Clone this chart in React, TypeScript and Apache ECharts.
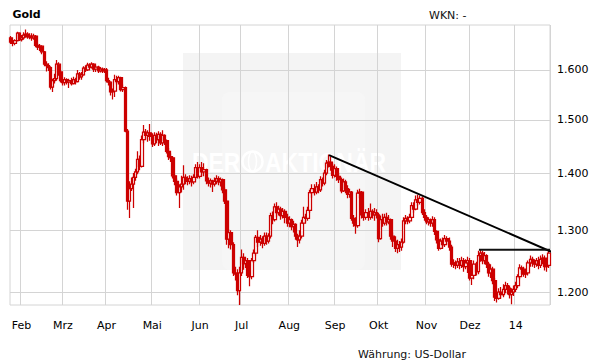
import React, { useEffect, useRef } from 'react';
import * as echarts from 'echarts';

// ---- data (gold, daily OHLC in USD) : [open, close, low, high] ----
const FIRST_DAY = '2013-01-25';
const MONTH_LABELS = ['Feb', 'Mrz', 'Apr', 'Mai', 'Jun', 'Jul', 'Aug', 'Sep', 'Okt', 'Nov', 'Dez', '14'];
const Y_TICKS = [1200, 1300, 1400, 1500, 1600];
const Y_MIN = 1180;
const Y_MAX = 1696;

const jan13 = [[1668,1659,1655,1672],[1659,1656,1650,1663],[1656,1662,1652,1665],[1662,1678,1660,1681],[1678,1664,1661,1680]];
const feb13 = [[1664,1668,1660,1674],[1668,1674,1664,1680],[1674,1676,1668,1686],[1676,1670,1666,1680],[1670,1672,1665,1678],
[1672,1668,1662,1678],[1668,1672,1664,1677],[1672,1652,1648,1674],[1652,1648,1642,1656],[1648,1650,1640,1655],
[1650,1638,1633,1652],[1638,1612,1608,1640],[1612,1609,1597,1618],[1609,1605,1598,1614],[1605,1565,1560,1608],
[1565,1578,1555,1582],[1578,1582,1572,1592],[1582,1612,1578,1621],[1612,1596,1588,1616],[1596,1578,1574,1599]];
const mar13 = [[1578,1574,1568,1582],[1574,1580,1568,1585],[1580,1575,1570,1583],[1575,1578,1563,1582],[1578,1572,1568,1584],
[1572,1580,1570,1586],[1580,1576,1570,1584],[1576,1592,1574,1600],[1592,1586,1580,1596],[1586,1590,1580,1596],
[1590,1604,1588,1608],[1604,1600,1596,1610],[1600,1610,1598,1615],[1610,1606,1602,1614],[1606,1612,1603,1616],
[1612,1602,1596,1614],[1602,1606,1596,1610],[1606,1598,1594,1609],[1598,1602,1595,1606],[1602,1598,1594,1605],
[1598,1600,1594,1604]];
const apr13 = [[1600,1578,1574,1604],[1578,1575,1568,1584],[1575,1555,1548,1577],[1555,1557,1540,1562],[1557,1580,1545,1590],
[1580,1576,1570,1588],[1576,1584,1570,1588],[1584,1560,1556,1586],[1560,1564,1555,1570],[1564,1478,1476,1566],
[1478,1350,1335,1482],[1350,1372,1321,1385],[1372,1380,1368,1392],[1380,1392,1338,1400],[1392,1402,1386,1408],
[1402,1425,1398,1440],[1425,1412,1405,1432],[1412,1462,1410,1470],[1462,1476,1455,1490],[1476,1470,1462,1482],
[1470,1475,1458,1480],[1475,1468,1460,1492]];
const may13 = [[1468,1454,1448,1474],[1454,1470,1450,1476],[1470,1462,1455,1475],[1462,1472,1450,1478],[1472,1456,1452,1476],
[1456,1470,1450,1480],[1470,1460,1452,1472],[1460,1440,1436,1462],[1440,1430,1424,1446],[1430,1428,1420,1436],
[1428,1395,1390,1430],[1395,1385,1378,1398],[1385,1365,1360,1390],[1365,1375,1338,1380],[1375,1380,1365,1395],
[1380,1392,1370,1414],[1392,1390,1380,1398],[1390,1385,1378,1394],[1385,1390,1380,1396],[1390,1384,1376,1395],
[1384,1392,1380,1398],[1392,1410,1388,1416],[1410,1394,1390,1420]];
const jun13 = [[1394,1410,1390,1416],[1410,1402,1395,1420],[1402,1406,1394,1418],[1406,1386,1380,1408],[1386,1382,1376,1392],
[1382,1386,1374,1390],[1386,1380,1366,1388],[1380,1385,1376,1392],[1385,1390,1380,1396],[1390,1384,1378,1394],
[1384,1388,1376,1392],[1388,1370,1364,1390],[1370,1350,1345,1374],[1350,1285,1276,1352],[1285,1296,1270,1302],
[1296,1276,1268,1300],[1276,1230,1225,1280],[1230,1228,1218,1240],[1228,1202,1195,1236],[1202,1230,1180,1240]];
const jul13 = [[1230,1255,1225,1268],[1255,1245,1235,1262],[1245,1250,1238,1256],[1250,1226,1222,1254],[1226,1224,1209,1240],
[1224,1250,1220,1254],[1250,1262,1246,1268],[1262,1288,1258,1292],[1288,1280,1272,1300],[1280,1285,1274,1292],
[1285,1278,1270,1290],[1278,1290,1274,1296],[1290,1282,1276,1296],[1282,1290,1278,1295],[1290,1325,1286,1330],
[1325,1318,1310,1332],[1318,1340,1315,1346],[1340,1330,1322,1348],[1330,1336,1325,1342],[1336,1325,1318,1340],
[1325,1332,1320,1338],[1332,1322,1312,1336],[1322,1312,1306,1328]];
const aug13 = [[1312,1318,1305,1324],[1318,1306,1300,1320],[1306,1310,1296,1316],[1310,1290,1284,1312],[1290,1284,1272,1294],
[1284,1290,1278,1300],[1290,1312,1286,1318],[1312,1322,1310,1340],[1322,1320,1314,1328],[1320,1334,1316,1340],
[1334,1365,1330,1370],[1365,1372,1356,1380],[1372,1366,1360,1380],[1366,1375,1362,1384],[1375,1370,1364,1380],
[1370,1388,1366,1394],[1388,1382,1376,1392],[1382,1400,1378,1406],[1400,1418,1396,1424],[1418,1420,1410,1434],
[1420,1412,1404,1430],[1412,1396,1390,1418]];
const sep13 = [[1396,1408,1392,1416],[1408,1394,1386,1412],[1394,1388,1382,1400],[1388,1368,1364,1392],[1368,1384,1366,1390],
[1384,1372,1364,1388],[1372,1362,1355,1378],[1362,1366,1356,1372],[1366,1320,1316,1368],[1320,1312,1306,1326],
[1312,1308,1294,1322],[1308,1364,1304,1370],[1364,1366,1355,1372],[1366,1326,1320,1368],[1326,1322,1316,1332],
[1322,1330,1318,1336],[1330,1322,1316,1338],[1322,1332,1318,1346],[1332,1326,1320,1336],[1326,1330,1316,1338],
[1330,1326,1320,1336]];
const oct13 = [[1326,1286,1280,1330],[1286,1318,1284,1325],[1318,1312,1306,1328],[1312,1322,1308,1328],[1322,1314,1308,1330],
[1314,1318,1310,1326],[1318,1290,1284,1320],[1290,1282,1272,1296],[1282,1270,1264,1290],[1270,1276,1262,1284],
[1276,1272,1264,1282],[1272,1280,1266,1286],[1280,1316,1278,1322],[1316,1320,1310,1326],[1320,1316,1310,1324],
[1316,1322,1312,1328],[1322,1342,1320,1348],[1342,1336,1330,1348],[1336,1352,1334,1360],[1352,1348,1342,1361],
[1348,1355,1344,1360],[1355,1330,1326,1358],[1330,1322,1316,1336]];
const nov13 = [[1322,1314,1310,1326],[1314,1318,1308,1322],[1318,1312,1306,1320],[1312,1318,1306,1324],[1318,1298,1292,1322],
[1298,1284,1278,1300],[1284,1270,1266,1288],[1270,1282,1268,1286],[1282,1276,1270,1288],[1276,1286,1272,1292],
[1286,1282,1276,1290],[1282,1272,1266,1288],[1272,1244,1240,1276],[1244,1246,1238,1252],[1246,1242,1236,1250],
[1242,1248,1238,1254],[1248,1242,1236,1254],[1242,1250,1238,1256],[1250,1240,1232,1254],[1240,1246,1236,1252],
[1246,1250,1230,1256]];
const dec13 = [[1250,1222,1218,1254],[1222,1226,1211,1234],[1226,1244,1220,1250],[1244,1232,1226,1248],[1232,1258,1228,1266],
[1258,1262,1248,1267],[1262,1250,1244,1266],[1250,1258,1244,1264],[1258,1244,1238,1260],[1244,1230,1224,1248],
[1230,1236,1222,1244],[1236,1218,1212,1240],[1218,1192,1186,1222],[1192,1190,1184,1200],[1190,1200,1188,1206],
[1200,1196,1190,1208],[1196,1204,1192,1212],[1204,1210,1198,1216],[1210,1206,1196,1214],[1206,1196,1190,1210],
[1196,1200,1181,1206],[1200,1204,1194,1210]];
const jan14 = [[1204,1210,1200,1216],[1210,1224,1206,1228],[1224,1238,1220,1244],[1238,1236,1228,1242],[1236,1228,1224,1240],
[1228,1230,1222,1236],[1230,1246,1226,1250],[1246,1252,1240,1258],[1252,1246,1240,1256],[1246,1244,1238,1252],
[1244,1250,1240,1254],[1250,1242,1236,1256],[1242,1252,1238,1258],[1252,1254,1244,1260],[1254,1240,1234,1258],
[1240,1242,1232,1250],[1242,1262,1238,1266]];

// trend lines: [day index (fractional), price]
const TREND_DOWN = [[153.1, 1433], [261.7, 1262]];
const TREND_FLAT = [[225.3, 1267.5], [259.5, 1267.5]];

function weekdays(start: string, n: number): string[] {
  const out: string[] = [];
  const d = new Date(start + 'T00:00:00Z');
  while (out.length < n) {
    const wd = d.getUTCDay();
    if (wd !== 0 && wd !== 6) out.push(d.toISOString().slice(0, 10));
    d.setUTCDate(d.getUTCDate() + 1);
  }
  return out;
}

export default function App() {
  const ref = useRef<HTMLDivElement>(null);
  useEffect(() => {
    const el = ref.current!;
    const chart = echarts.init(el, null, { renderer: 'svg' });
    const L = (v: number) => Math.log10(v);
    const ohlc = [...jan13, ...feb13, ...mar13, ...apr13, ...may13, ...jun13, ...jul13, ...aug13, ...sep13, ...oct13, ...nov13, ...dec13, ...jan14];
    const dates = weekdays(FIRST_DAY, ohlc.length);
    const monthStart = new Map<number, string>();
    let m = 0;
    for (let i = 1; i < dates.length; i++) {
      if (dates[i].slice(0, 7) !== dates[i - 1].slice(0, 7)) monthStart.set(i, MONTH_LABELS[m++]);
    }
    const fmtY = (v: number) => {
      const n = Math.round(Math.pow(10, v) / 100) * 100;
      return `${Math.floor(n / 1000)}.${String(n % 1000).padStart(3, '0')}`;
    };
    const gridColor = '#d4d4d4';
    const font = '"DejaVu Sans", Verdana, sans-serif';
    const red = '#cc0000';
    chart.setOption({
      animation: false,
      backgroundColor: '#ffffff',
      textStyle: { fontFamily: font },
      grid: { left: 10, right: 61, top: 25, bottom: 59, show: true, borderColor: gridColor, borderWidth: 1, backgroundColor: 'transparent' },
      xAxis: [
        {
          type: 'category', data: dates, boundaryGap: true,
          axisLine: { show: false }, axisTick: { show: false },
          axisLabel: {
            interval: (i: number) => monthStart.has(i),
            formatter: (_v: string, i: number) => monthStart.get(i) ?? '',
            color: '#000', fontSize: 11, margin: 15, fontFamily: font,
          },
          splitLine: { show: true, interval: (i: number) => monthStart.has(i), lineStyle: { color: gridColor, width: 1 } },
        },
        { type: 'value', min: -0.5, max: dates.length - 0.5, show: false },
      ],
      yAxis: {
        type: 'value', position: 'right', min: L(Y_MIN), max: L(Y_MAX),
        axisLine: { show: false },
        axisTick: { show: false, customValues: Y_TICKS.map(L) },
        axisLabel: { customValues: Y_TICKS.map(L), formatter: fmtY, margin: 7, color: '#000', fontSize: 11, fontFamily: font },
        splitLine: { show: true, lineStyle: { color: gridColor, width: 1 } },
      },
      series: [
        {
          type: 'candlestick', xAxisIndex: 0,
          data: ohlc.map((r) => r.map(L)),
          barWidth: 3,
          itemStyle: { color: '#ffffff', color0: red, borderColor: red, borderColor0: red, borderWidth: 1.25 },
          z: 3,
        },
        {
          type: 'line', xAxisIndex: 1, data: TREND_DOWN.map(([x, p]) => [x, L(p)]),
          symbol: 'none', clip: false, lineStyle: { color: '#000', width: 2 }, z: 5,
        },
        {
          type: 'line', xAxisIndex: 1, data: TREND_FLAT.map(([x, p]) => [x, L(p)]),
          symbol: 'none', clip: false, lineStyle: { color: '#111', width: 2 }, z: 5,
        },
      ],
      graphic: [
        { type: 'rect', z: -10, silent: true, shape: { x: 183, y: 53, width: 218, height: 217 }, style: { fill: '#f4f4f4' } },
        { type: 'rect', z: -9, silent: true, shape: { x: 222, y: 92, width: 143, height: 178, r: 8 }, style: { fill: '#f6f6f6' } },
        { type: 'text', z: -8, silent: true, x: 192, y: 162, scaleX: 0.85, style: { text: 'DER', fill: '#ffffff', font: 'bold 27px "Liberation Sans", Arial, sans-serif', align: 'left', verticalAlign: 'middle' } },
        { type: 'circle', z: -8, silent: true, shape: { cx: 252.5, cy: 161.5, r: 10 }, style: { fill: 'none', stroke: '#ffffff', lineWidth: 2.5 } },
        { type: 'ellipse', z: -8, silent: true, shape: { cx: 252.5, cy: 161.5, rx: 4, ry: 10 }, style: { fill: 'none', stroke: '#ffffff', lineWidth: 1.5 } },
        { type: 'text', z: -8, silent: true, x: 265, y: 162, scaleX: 0.85, style: { text: 'AKTIONÄR', fill: '#ffffff', font: 'bold 27px "Liberation Sans", Arial, sans-serif', align: 'left', verticalAlign: 'middle' } },
        { type: 'text', x: 12.5, y: 14.5, style: { text: 'Gold', fill: '#000', font: `bold 11px ${font}`, align: 'left', verticalAlign: 'middle' } },
        { type: 'text', x: 429, y: 15.5, style: { text: 'WKN: -', fill: '#111', font: `11px ${font}`, align: 'left', verticalAlign: 'middle' } },
        { type: 'text', x: 358, y: 354, style: { text: 'Währung: US-Dollar', fill: '#111', font: `11px ${font}`, align: 'left', verticalAlign: 'middle' } },
      ],
    });
    return () => chart.dispose();
  }, []);
  return <div ref={ref} style={{ position: 'absolute', left: 0, top: 0, width: 611, height: 364 }} />;
}
